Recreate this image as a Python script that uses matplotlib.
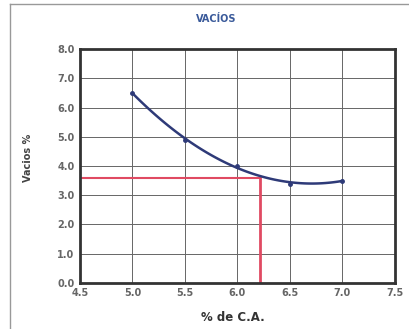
import numpy as np
import matplotlib
matplotlib.use("Agg")
import matplotlib.pyplot as plt

# datos del ensayo
pct_ca = [5.0, 5.5, 6.0, 6.5, 7.0]
vacios = [6.5, 4.9, 4.0, 3.4, 3.5]
x_opt = 6.22
y_opt = 3.6
xticks = [4.5, 5.0, 5.5, 6.0, 6.5, 7.0, 7.5]
yticks = [0.0, 1.0, 2.0, 3.0, 4.0, 5.0, 6.0, 7.0, 8.0]

fig = plt.figure(figsize=(4.1, 3.29), dpi=100)
ax = fig.add_axes([0.195, 0.140, 0.768, 0.711])

# linea de tendencia polinomica
coef = np.polyfit(pct_ca, vacios, 2)
xs = np.linspace(pct_ca[0], pct_ca[-1], 100)
ax.plot(xs, np.polyval(coef, xs), color="#2e3a78", lw=1.8, zorder=3)
ax.plot(pct_ca, vacios, "o", color="#2e3a78", ms=2.5, zorder=3)

ax.plot([4.5, x_opt], [y_opt, y_opt], color="#e04a62", lw=1.5, zorder=2)
ax.plot([x_opt, x_opt], [0, y_opt], color="#e04a62", lw=2.0, zorder=2)

ax.set_xlim(4.5, 7.5)
ax.set_ylim(0, 8)
ax.set_xticks(xticks)
ax.set_yticks(yticks)
ax.set_xticklabels(["%.1f" % v for v in xticks], fontsize=7, color="#666666",
                   fontweight="bold")
ax.set_yticklabels(["%.1f" % v for v in yticks], fontsize=7, color="#666666",
                   fontweight="bold")
ax.tick_params(length=0, pad=4)
ax.grid(True, color="#666666", lw=0.7)
ax.set_axisbelow(True)
for s in ax.spines.values():
    s.set_linewidth(2.0)
    s.set_color("#333333")

fig.text(0.528, 0.942, "VACÍOS", fontsize=7, fontweight="bold",
         color="#3a5a9a", ha="center", va="center")
fig.text(0.568, 0.036, "% de C.A.", fontsize=8.5, fontweight="bold",
         color="#333333", ha="center", va="center")
fig.text(0.068, 0.52, "Vacios %", fontsize=7, color="#444444",
         fontweight="bold", rotation=90, ha="center", va="center")

# marco de la figura
fig.add_artist(plt.Line2D([0.025, 0.025], [0, 0.987], color="#999999", lw=1.0))
fig.add_artist(plt.Line2D([0.025, 1], [0.987, 0.987], color="#999999", lw=1.0))

fig.savefig("out.png", dpi=100)
